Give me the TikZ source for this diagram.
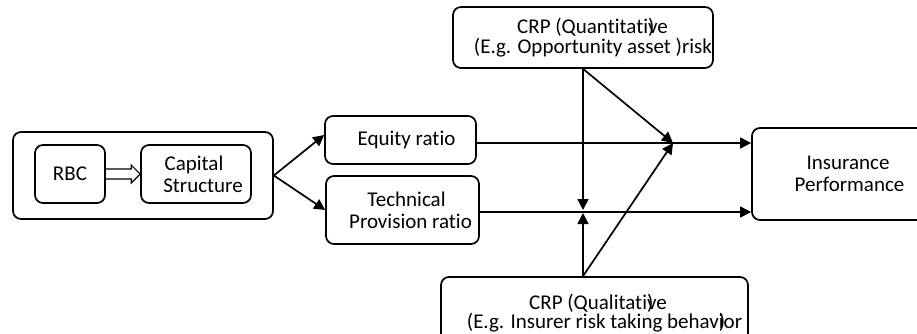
\documentclass[tikz,border=0pt]{standalone}
\usepackage{fontspec}
\setmainfont{Carlito}[Ligatures={NoCommon,NoRequired,NoContextual}]
\usetikzlibrary{arrows.meta,calc}
\begin{document}
\begin{tikzpicture}[x=1pt,y=-1pt,
  box/.style={draw,line width=1.7pt,rounded corners=8pt,inner sep=0pt,align=center,font=\fontsize{21}{22}\selectfont},
  crp/.style={box,font=\fontsize{21}{19.5}\selectfont},
  conn/.style={line width=1.7pt,-{Triangle[length=11pt,width=11pt]}}]
\useasboundingbox (0,0) rectangle (917,334);
\node[box,minimum width=260pt,minimum height=87pt] (outer) at (143,175.5) {};
\node[box,minimum width=70pt,minimum height=58pt] (rbc) at (70,174) {RBC};
\node[box,minimum width=110pt,minimum height=58pt] (cap) at (196,174) {\hspace*{-4pt}Capital\\\hspace*{14pt}Structure};
\node[box,minimum width=151pt,minimum height=48pt] (eq) at (400.5,140) {\hspace*{12pt}Equity ratio};
\node[box,minimum width=153pt,minimum height=68pt] (tech) at (402.5,210) {\hspace*{8pt}Technical\\\hspace*{16pt}Provision ratio};
\node[box,minimum width=192pt,minimum height=92pt] (ip) at (848,174) {Insurance\\\hspace*{3pt}Performance};
\node[crp,minimum width=260pt,minimum height=61pt] (top) at (583,37.5) {\hspace*{19pt}CRP (Quantitati\rlap{)}ve\\\hspace*{20pt}(E.g. Opportunity asset )risk};
\node[crp,minimum width=307pt,minimum height=72pt] (bot) at (594.5,313) {\hspace*{7pt}CRP (Qualitati\rlap{)}ve\\\hspace*{20pt}(E.g. Insurer risk taking behav\rlap{)}ior};
% hollow block arrow RBC -> Capital
\draw[line width=1.2pt,line join=miter] ([yshift=5pt]rbc.east) -- ([xshift=-9pt,yshift=5pt]cap.west) -- ([xshift=-9pt,yshift=9pt]cap.west) -- (cap.west) -- ([xshift=-9pt,yshift=-9pt]cap.west) -- ([xshift=-9pt,yshift=-5pt]cap.west) -- ([yshift=-5pt]rbc.east);
% connectors
\draw[conn] (outer.east) -- ([yshift=5pt]eq.west);
\draw[conn] (outer.east) -- (tech.west);
\draw[conn] ([yshift=-3pt]eq.east) -- ([yshift=-3pt]eq.east -| ip.west);
\draw[conn] ([yshift=-2pt]tech.east) -- ([yshift=-2pt]tech.east -| ip.west);
\coordinate (j1) at (673,143);
\coordinate (j2) at (top.south |- tech.east);
\coordinate (bt) at (top.south |- bot.north);
\draw[conn] (top.south) -- (j2);
\draw[conn] (bt) -- ([yshift=-3pt]j2);
\draw[conn] (top.south) -- (j1);
\draw[conn] (bt) -- (j1);
\end{tikzpicture}
\end{document}
